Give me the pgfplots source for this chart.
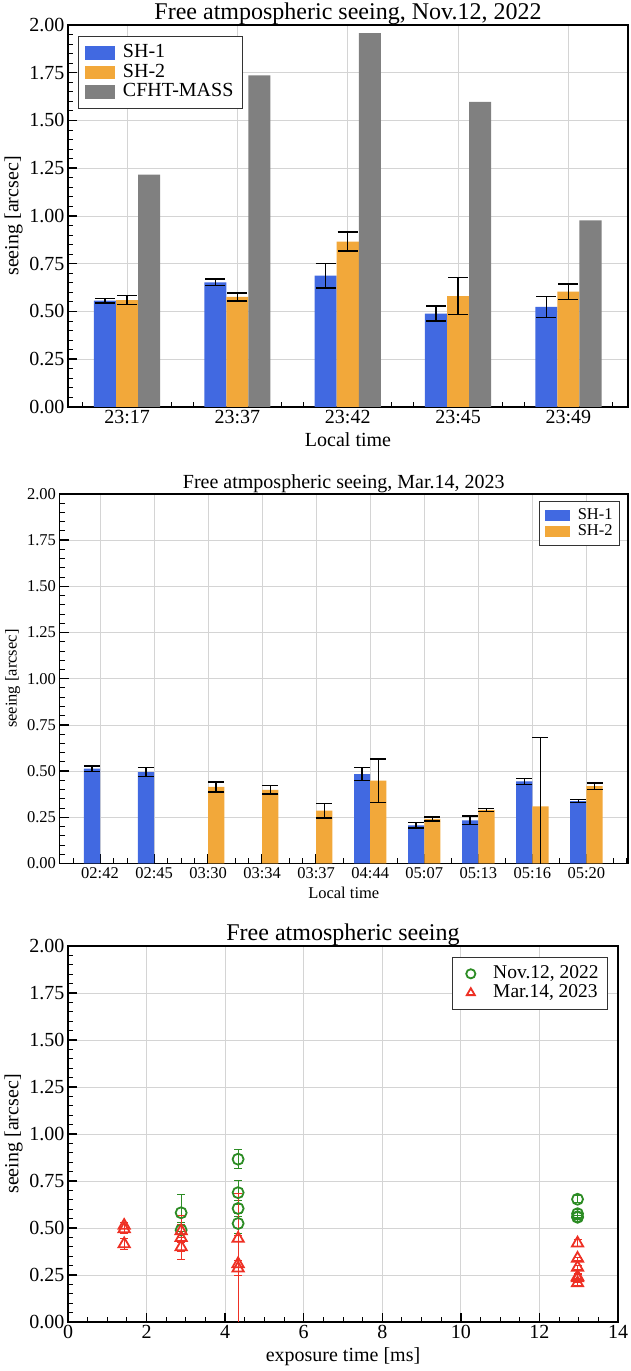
\documentclass[border=0pt]{standalone}
\usepackage{fontspec}
\setmainfont{Liberation Serif}
\usepackage{pgfplots}
\pgfplotsset{compat=1.18}

\definecolor{shblue}{RGB}{65,105,225}
\definecolor{shorange}{RGB}{242,168,58}
\definecolor{massgray}{RGB}{128,128,128}
\definecolor{novgreen}{RGB}{44,140,36}
\definecolor{marred}{RGB}{238,48,36}
\definecolor{gridgray}{RGB}{212,212,212}

\pgfplotsset{
  seeing/.style={
    scale only axis,
    anchor=south west,
    axis line style={line width=1.5pt},
    tick align=inside,
    tick pos=left,
    major tick length=9pt,
    minor tick length=5pt,
    every major tick/.append style={line width=1.5pt, black},
    every minor tick/.append style={line width=1pt, black},
    grid=major,
    major grid style={gridgray, line width=0.8pt},
    ymin=0, ymax=2,
    ytick={0,0.25,0.5,0.75,1,1.25,1.5,1.75,2},
    minor y tick num=4,
    yticklabel style={/pgf/number format/.cd, fixed, fixed zerofill, precision=2},
    /pgf/number format/assume math mode=true,
    ylabel={seeing [arcsec]},
    title style={at={(0.5,1)}, anchor=base, inner sep=0pt, yshift=-1pt},
    xlabel style={yshift=-2pt},
    legend cell align=left,
    legend style={draw=black!80, line width=0.8pt, fill=white},
  },
  fonts/.style 2 args={
    tick label style={font=\fontsize{#2}{#2}\selectfont},
    label style={font=\fontsize{#2}{#2}\selectfont},
    title style={font=\fontsize{#1}{#1}\selectfont},
    legend style={font=\fontsize{#2}{#2}\selectfont},
  },
  % error bars drawn on their own, centred on the shifted bars
  barerr/.style={
    draw=none, mark=none, forget plot,
    error bars/.cd, y dir=both, y explicit,
    error bar style={draw=black, line width=1.5pt},
    error mark options={rotate=90, draw=black, line width=1.5pt, mark size=#1},
  },
  pterr/.style={
    error bars/.cd, y dir=both, y explicit,
    error bar style={line width=0.9pt},
    error mark options={rotate=90, line width=0.9pt, mark size=4pt},
  },
}

\begin{document}
\begin{tikzpicture}
\useasboundingbox (0pt,0pt) rectangle (630pt,1371pt);

% ---- Nov. 12, 2022: SH-1, SH-2 and CFHT-MASS ----
\begin{axis}[seeing, fonts={24}{20},
  at={(68pt,964pt)}, width=560pt, height=382pt,
  xmin=-0.535, xmax=4.54,
  xtick={0,1,2,3,4},
  xticklabels={23:17,23:37,23:42,23:45,23:49},
  minor xtick={-0.4,-0.2,0.2,0.4,0.6,0.8,1.2,1.4,1.6,1.8,2.2,2.4,2.6,2.8,3.2,3.4,3.6,3.8,4.2,4.4},
  title={Free atmpospheric seeing, Nov.12, 2022},
  xlabel={Local time},
  legend style={at={(0.018,0.972)}, anchor=north west, inner xsep=6.5pt, inner ysep=7pt,
    nodes={inner sep=2pt, text height=12.5pt, text depth=3pt},
    /tikz/every odd column/.append style={column sep=6pt}},
  legend image code/.code={\fill[#1] (0pt,-6.7pt) rectangle (30pt,6.7pt);},
]
\addplot[ybar, bar width=0.2, bar shift=-0.2, fill=shblue, draw=none]
  coordinates {(0,0.557) (1,0.653) (2,0.688) (3,0.489) (4,0.524)};
\addlegendentry{SH-1}
\addplot[ybar, bar width=0.2, bar shift=0, fill=shorange, draw=none]
  coordinates {(0,0.560) (1,0.576) (2,0.866) (3,0.581) (4,0.604)};
\addlegendentry{SH-2}
\addplot[ybar, bar width=0.2, bar shift=0.2, fill=massgray, draw=none]
  coordinates {(0,1.216) (1,1.736) (2,1.958) (3,1.597) (4,0.977)};
\addlegendentry{CFHT-MASS}
\addplot[barerr=10pt]
  coordinates {(-0.2,0.557) +- (0,0.012) (0.8,0.653) +- (0,0.018) (1.8,0.688) +- (0,0.064)
               (2.8,0.489) +- (0,0.040) (3.8,0.524) +- (0,0.055)};
\addplot[barerr=10pt]
  coordinates {(0,0.560) +- (0,0.024) (1,0.576) +- (0,0.022) (2,0.866) +- (0,0.050)
               (3,0.581) +- (0,0.098) (4,0.604) +- (0,0.041)};
\end{axis}

% ---- Mar. 14, 2023: SH-1 and SH-2 ----
\begin{axis}[seeing, fonts={20}{16.5},
  at={(59.5pt,507.5pt)}, width=568.5pt, height=369.5pt,
  xmin=-0.75, xmax=9.77,
  xtick={0,...,9},
  xticklabels={02:42,02:45,03:30,03:34,03:37,04:44,05:07,05:13,05:16,05:20},
  minor xtick={-0.5,-0.25,0.25,0.5,0.75,1.25,1.5,1.75,2.25,2.5,2.75,3.25,3.5,3.75,4.25,4.5,4.75,5.25,5.5,5.75,6.25,6.5,6.75,7.25,7.5,7.75,8.25,8.5,8.75,9.25,9.5,9.75},
  title={Free atmpospheric seeing, Mar.14, 2023},
  xlabel={Local time},
  legend style={at={(0.986,0.98)}, anchor=north east, inner xsep=5.5pt, inner ysep=6pt,
    nodes={inner sep=1.5pt, text height=10pt, text depth=3pt},
    /tikz/every odd column/.append style={column sep=6pt}},
  legend image code/.code={\fill[#1] (0pt,-5.6pt) rectangle (25pt,5.6pt);},
]
\addplot[ybar, bar width=0.3, bar shift=-0.15, fill=shblue, draw=none]
  coordinates {(0,0.513) (1,0.495) (5,0.484) (6,0.207) (7,0.234) (8,0.444) (9,0.338)};
\addlegendentry{SH-1}
\addplot[ybar, bar width=0.3, bar shift=0.15, fill=shorange, draw=none]
  coordinates {(2,0.415) (3,0.399) (4,0.286) (5,0.448) (6,0.241) (7,0.290) (8,0.309) (9,0.419)};
\addlegendentry{SH-2}
\addplot[barerr=8pt]
  coordinates {(-0.15,0.513) +- (0,0.016) (0.85,0.495) +- (0,0.025) (4.85,0.484) +- (0,0.035)
               (5.85,0.207) +- (0,0.015) (6.85,0.234) +- (0,0.022) (7.85,0.444) +- (0,0.017)
               (8.85,0.338) +- (0,0.008)};
\addplot[barerr=8pt]
  coordinates {(2.15,0.415) +- (0,0.027) (3.15,0.399) +- (0,0.022) (4.15,0.286) +- (0,0.039)
               (5.15,0.448) +- (0,0.117) (6.15,0.241) +- (0,0.010) (7.15,0.290) +- (0,0.009)
               (8.15,0.309) +- (0,0.374) (9.15,0.419) +- (0,0.018)};
\end{axis}

% ---- seeing against exposure time, both nights ----
\begin{axis}[seeing, fonts={24}{20},
  at={(68pt,49pt)}, width=550pt, height=376pt,
  xmin=0, xmax=14,
  xtick={0,2,...,14},
  minor x tick num=3,
  title={Free atmospheric seeing},
  xlabel={exposure time [ms]},
  legend style={at={(0.981,0.971)}, anchor=north east, inner xsep=6.5pt, inner ysep=7pt,
    font=\fontsize{19.5}{19.5}\selectfont,
    nodes={inner sep=2pt, text height=12pt, text depth=3pt},
    /tikz/every odd column/.append style={column sep=8pt}},
  legend image code/.code={\path (0pt,0pt) (24pt,0pt);
    \draw[mark repeat=2, mark phase=2, #1, mark size=4.6pt]
    plot coordinates {(0pt,0pt) (12pt,0pt) (24pt,0pt)};},
]
\addplot[only marks, mark=o, color=novgreen, mark size=5.5pt,
         mark options={line width=1.8pt}, pterr]
  coordinates {(2.88,0.581) +- (0,0.098) (2.88,0.489) +- (0,0.040)
               (4.33,0.866) +- (0,0.050) (4.33,0.688) +- (0,0.064)
               (4.33,0.604) +- (0,0.041) (4.33,0.524) +- (0,0.055)
               (12.97,0.653) +- (0,0.018) (12.97,0.576) +- (0,0.022)
               (12.97,0.560) +- (0,0.024) (12.97,0.557) +- (0,0.012)};
\addlegendentry{Nov.12, 2022}
\addplot[only marks, mark=triangle, color=marred, mark size=6.5pt,
         mark options={line width=1.8pt}, pterr]
  coordinates {(1.43,0.513) +- (0,0.016) (1.43,0.495) +- (0,0.025) (1.43,0.415) +- (0,0.027)
               (2.88,0.484) +- (0,0.035) (2.88,0.448) +- (0,0.117) (2.88,0.399) +- (0,0.022)
               (4.33,0.444) +- (0,0.017) (4.33,0.309) +- (0,0.374) (4.33,0.286) +- (0,0.039)
               (12.97,0.419) +- (0,0.018) (12.97,0.338) +- (0,0.008) (12.97,0.290) +- (0,0.009)
               (12.97,0.241) +- (0,0.010) (12.97,0.234) +- (0,0.022) (12.97,0.207) +- (0,0.015)};
\addlegendentry{Mar.14, 2023}
\end{axis}
\end{tikzpicture}
\end{document}
